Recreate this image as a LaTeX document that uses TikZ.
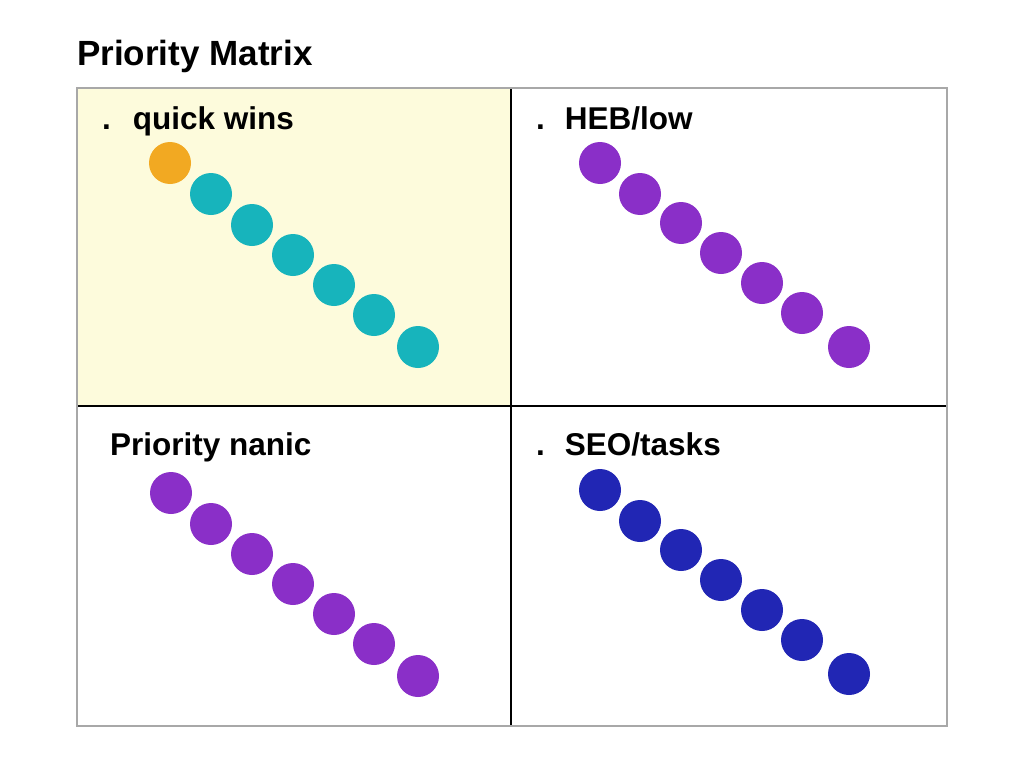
\documentclass[tikz,border=0pt]{standalone}
\usepackage{fontspec}
\setmainfont{Liberation Sans}
\usetikzlibrary{positioning}
\definecolor{cYellow}{HTML}{FDFBDC}
\definecolor{cFrame}{HTML}{A8A8A8}
\definecolor{cOrange}{HTML}{F2A922}
\definecolor{cTeal}{HTML}{17B4BC}
\definecolor{cPurple}{HTML}{8A2FC8}
\definecolor{cBlue}{HTML}{2126B4}

\begin{document}
\begin{tikzpicture}[
   x=1pt, y=-1pt,
   dot/.style={circle, minimum size=42pt, inner sep=0pt},
   quadlbl/.style={anchor=base west, inner sep=0pt, font=\fontsize{31.5}{34}\selectfont\bfseries},
   divider/.style={line width=2pt, black}]
  \useasboundingbox (0,0) rectangle (1024,768);
  \fill[white] (0,0) rectangle (1024,768);
  % quadrants
  \fill[cYellow] (77,88) rectangle (511,406);
  \draw[divider] (511,88) -- (511,726);
  \draw[divider] (77,406) -- (947,406);
  \draw[cFrame, line width=2pt] (77,88) rectangle (947,726);
  % titles
  \node[anchor=base west, inner sep=0pt, font=\fontsize{35}{38}\selectfont\bfseries] (title) at (77,66) {Priority Matrix};
  \node[quadlbl] (lq) at (102,129) {.\hspace{22pt}quick wins};
  \node[quadlbl] (lh) at (536,129) {.\hspace{20pt}HEB/low};
  \node[quadlbl] (lp) at (110,455) {Priority nanic};
  \node[quadlbl] (ls) at (536,455) {.\hspace{20pt}SEO/tasks};
  % dots
  \node[dot, fill=cOrange] (q1) at (170,163) {};
  \foreach \i/\x/\y in {2/211/194, 3/252/225, 4/293/255, 5/334/285, 6/374/315, 7/418/347}
    \node[dot, fill=cTeal] (q\i) at (\x,\y) {};
  \foreach \i/\x/\y in {1/600/163, 2/640/194, 3/681/223, 4/721/253, 5/762/283, 6/802/313, 7/849/347}
    \node[dot, fill=cPurple] (h\i) at (\x,\y) {};
  \foreach \i/\x/\y in {1/171/493, 2/211/524, 3/252/554, 4/293/584, 5/334/614, 6/374/644, 7/418/676}
    \node[dot, fill=cPurple] (p\i) at (\x,\y) {};
  \foreach \i/\x/\y in {1/600/490, 2/640/521, 3/681/550, 4/721/580, 5/762/610, 6/802/640, 7/849/674}
    \node[dot, fill=cBlue] (s\i) at (\x,\y) {};
\end{tikzpicture}
\end{document}
